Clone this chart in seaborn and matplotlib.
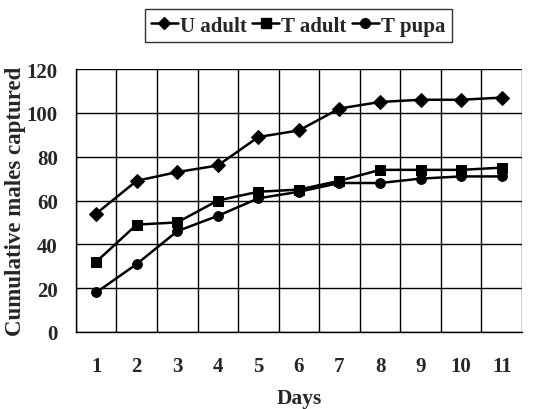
import matplotlib
matplotlib.use("Agg")
import matplotlib.pyplot as plt
import seaborn as sns
import numpy as np
import pandas as pd

days = list(range(1, 12))
u_adult = [54, 69, 73, 76, 89, 92, 102, 105, 106, 106, 107]
t_adult = [32, 49, 50, 60, 64, 65, 69, 74, 74, 74, 75]
t_pupa = [18, 31, 46, 53, 61, 64, 68, 68, 70, 71, 71]
series_names = ["U adult", "T adult", "T pupa"]
y_ticks = [0, 20, 40, 60, 80, 100, 120]

sns.set_style("white")
plt.rcParams["font.family"] = ["Liberation Serif", "DejaVu Serif"]
plt.rcParams["font.weight"] = "bold"

df = pd.DataFrame({
    "Days": days * 3,
    "value": u_adult + t_adult + t_pupa,
    "series": [n for n in series_names for _ in days],
})

fig = plt.figure(figsize=(5.46, 4.10), dpi=100)
ax = fig.add_axes([0.139, 0.188, 0.817, 0.641])

sns.lineplot(data=df, x="Days", y="value", hue="series", style="series",
             palette=["black"] * 3, markers={"U adult": "D", "T adult": "s", "T pupa": "o"},
             dashes=False, markersize=7, linewidth=1.8, markeredgecolor="black",
             ax=ax, legend=False)

# grid like the spreadsheet original
ax.set_xlim(0.5, 11.5)
ax.set_ylim(0, 120)
ax.set_xticks(days)
ax.set_xticks(np.arange(0.5, 12, 1), minor=True)
ax.set_yticks(y_ticks)
ax.grid(True, which="minor", axis="x", color="black", linewidth=1)
ax.grid(True, which="major", axis="y", color="black", linewidth=1)
ax.tick_params(axis="x", which="major", length=0, pad=17, labelsize=15)
ax.tick_params(axis="x", which="minor", length=5, width=1, direction="out", color="black")
ax.tick_params(axis="y", length=5, width=1, direction="out", color="black", labelsize=15, pad=8)
for sp in ax.spines.values():
    sp.set_color("black")
    sp.set_linewidth(1)
ax.spines["top"].set_visible(False)
ax.spines["right"].set_visible(False)

for lab in ax.get_xticklabels() + ax.get_yticklabels():
    lab.set_fontweight("bold")

ax.set_xlabel("Days", fontsize=15.5, fontweight="bold")
ax.xaxis.set_label_coords(0.5, -0.212)
ax.set_ylabel("Cumulative males captured", fontsize=16.5, fontweight="bold")
ax.yaxis.set_label_coords(-0.112, 0.5)

handles = [
    plt.Line2D([], [], color="black", marker="D", markersize=6, linewidth=1.8),
    plt.Line2D([], [], color="black", marker="s", markersize=7, linewidth=1.8),
    plt.Line2D([], [], color="black", marker="o", markersize=7, linewidth=1.8),
]
leg = fig.legend(handles, series_names, loc="center", bbox_to_anchor=(0.546, 0.935),
                 ncol=3, frameon=True, fancybox=False, edgecolor="black",
                 handlelength=1.3, handletextpad=0.1, columnspacing=0.25,
                 borderpad=0.3, borderaxespad=0, prop={"size": 15, "weight": "bold"})
leg.get_frame().set_linewidth(1)

fig.savefig("out.png", dpi=100)
